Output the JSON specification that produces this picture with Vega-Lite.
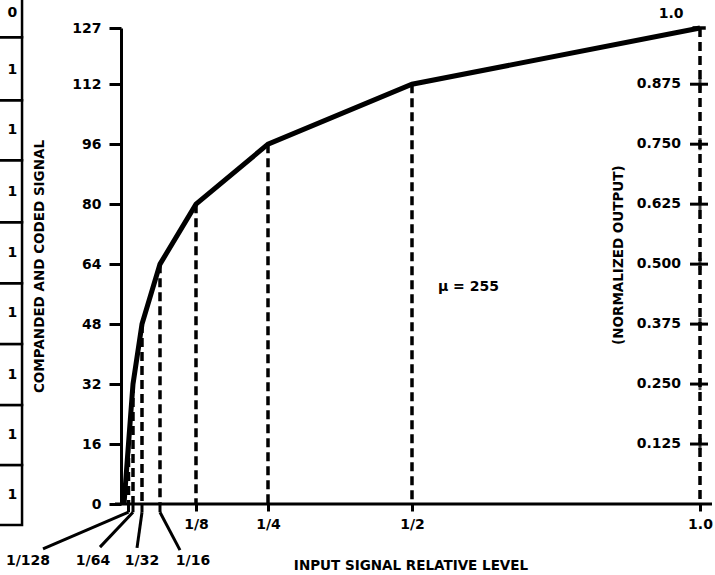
{
  "$schema": "https://vega.github.io/schema/vega-lite/v6.json",
  "width": 579,
  "height": 476,
  "autosize": {"type": "none"},
  "padding": {"left": 121, "top": 28, "right": 15, "bottom": 71},
  "background": "white",
  "config": {
    "view": {"stroke": null},
    "font": "DejaVu Sans",
    "text": {"font": "DejaVu Sans", "fontWeight": "bold", "fontSize": 14, "color": "black"}
  },
  "datasets": {
    "curve": [
      {"x": 0, "y": 0},
      {"x": 0.0078125, "y": 16},
      {"x": 0.015625, "y": 32},
      {"x": 0.03125, "y": 48},
      {"x": 0.0625, "y": 64},
      {"x": 0.125, "y": 80},
      {"x": 0.25, "y": 96},
      {"x": 0.5, "y": 112},
      {"x": 1, "y": 127}
    ],
    "boxes": [
      {"bit": "1", "lo": -5.6, "hi": 10.4, "mid": 2.4},
      {"bit": "1", "lo": 10.4, "hi": 26.4, "mid": 18.4},
      {"bit": "1", "lo": 26.4, "hi": 42.7, "mid": 34.4},
      {"bit": "1", "lo": 42.7, "hi": 58.9, "mid": 50.9},
      {"bit": "1", "lo": 58.9, "hi": 75.2, "mid": 66.9},
      {"bit": "1", "lo": 75.2, "hi": 91.7, "mid": 83.2},
      {"bit": "1", "lo": 91.7, "hi": 107.7, "mid": 99.7},
      {"bit": "1", "lo": 107.7, "hi": 124.5, "mid": 115.7},
      {"bit": "0", "lo": 124.5, "hi": 150, "mid": 130.9}
    ],
    "leaders": [
      {"label": "1/128", "x": 0.0078125, "xe": -0.1406, "ye": -12.0, "xl": -0.1667, "yl": -15.3},
      {"label": "1/64", "x": 0.015625, "xe": -0.0417, "ye": -11.5, "xl": -0.0538, "yl": -15.3},
      {"label": "1/32", "x": 0.03125, "xe": 0.0226, "ye": -11.7, "xl": 0.0313, "yl": -15.3},
      {"label": "1/16", "x": 0.0625, "xe": 0.0972, "ye": -12.3, "xl": 0.1198, "yl": -15.3}
    ],
    "norm": [
      {"v": 16, "label": "0.125"},
      {"v": 32, "label": "0.250"},
      {"v": 48, "label": "0.375"},
      {"v": 64, "label": "0.500"},
      {"v": 80, "label": "0.625"},
      {"v": 96, "label": "0.750"},
      {"v": 112, "label": "0.875"}
    ]
  },
  "layer": [
    {
      "data": {"name": "curve"},
      "mark": {"type": "line", "color": "black", "strokeWidth": 5},
      "encoding": {
        "x": {
          "field": "x",
          "type": "quantitative",
          "scale": {"domain": [-0.0052, 1], "nice": false, "zero": false},
          "axis": {
            "values": [0.125, 0.25, 0.5, 1],
            "labelExpr": "datum.value == 0.125 ? '1/8' : datum.value == 0.25 ? '1/4' : datum.value == 0.5 ? '1/2' : '1.0'",
            "domain": false,
            "grid": false,
            "ticks": true,
            "tickSize": 7,
            "tickWidth": 3,
            "tickColor": "black",
            "labelFlush": false,
            "labelFont": "DejaVu Sans",
            "labelFontSize": 14,
            "labelFontWeight": "bold",
            "labelColor": "black",
            "labelPadding": 6,
            "title": "INPUT SIGNAL RELATIVE LEVEL",
            "titleFont": "DejaVu Sans",
            "titleFontSize": 13.5,
            "titleFontWeight": "bold",
            "titleColor": "black",
            "titlePadding": 27
          }
        },
        "y": {
          "field": "y",
          "type": "quantitative",
          "scale": {"domain": [0, 127], "nice": false, "zero": false},
          "axis": {
            "values": [0, 16, 32, 48, 64, 80, 96, 112, 127],
            "grid": false,
            "domain": true,
            "domainWidth": 3,
            "domainColor": "black",
            "tickSize": 12,
            "tickWidth": 3,
            "tickColor": "black",
            "labelFlush": false,
            "labelFont": "DejaVu Sans",
            "labelFontSize": 14,
            "labelFontWeight": "bold",
            "labelColor": "black",
            "labelPadding": 8,
            "title": "COMPANDED AND CODED SIGNAL",
            "titleFont": "DejaVu Sans",
            "titleFontSize": 13.5,
            "titleFontWeight": "bold",
            "titleColor": "black",
            "titlePadding": 25
          }
        }
      }
    },
    {
      "data": {"name": "boxes"},
      "mark": {"type": "rect", "fill": "white", "stroke": "black", "strokeWidth": 2.5},
      "encoding": {
        "x": {"datum": -0.3, "type": "quantitative"},
        "x2": {"datum": -0.177},
        "y": {"field": "lo", "type": "quantitative"},
        "y2": {"field": "hi"}
      }
    },
    {
      "data": {"name": "boxes"},
      "mark": {"type": "text", "align": "center", "baseline": "middle"},
      "encoding": {
        "x": {"datum": -0.194, "type": "quantitative"},
        "y": {"field": "mid", "type": "quantitative"},
        "text": {"field": "bit", "type": "nominal"}
      }
    },
    {
      "data": {"values": [{"k": 1}]},
      "mark": {"type": "rule", "color": "black", "strokeWidth": 3},
      "encoding": {
        "x": {"datum": -0.0156, "type": "quantitative"},
        "x2": {"datum": 1.0208},
        "y": {"datum": 0, "type": "quantitative"}
      }
    },
    {
      "data": {"name": "curve"},
      "transform": [{"filter": "datum.x > 0"}],
      "mark": {"type": "rule", "color": "black", "strokeWidth": 3.5, "strokeDash": [9, 5]},
      "encoding": {
        "x": {"field": "x", "type": "quantitative"},
        "y": {"field": "y", "type": "quantitative"},
        "y2": {"datum": 0}
      }
    },
    {
      "data": {"name": "leaders"},
      "mark": {"type": "rule", "color": "black", "strokeWidth": 3},
      "encoding": {
        "x": {"field": "x", "type": "quantitative"},
        "x2": {"field": "x"},
        "y": {"datum": 0, "type": "quantitative"},
        "y2": {"datum": -2.2}
      }
    },
    {
      "data": {"name": "leaders"},
      "mark": {"type": "rule", "color": "black", "strokeWidth": 3},
      "encoding": {
        "x": {"field": "xe", "type": "quantitative"},
        "x2": {"field": "x"},
        "y": {"field": "ye", "type": "quantitative"},
        "y2": {"datum": -2.2}
      }
    },
    {
      "data": {"name": "leaders"},
      "mark": {"type": "text", "align": "center", "baseline": "middle"},
      "encoding": {
        "x": {"field": "xl", "type": "quantitative"},
        "y": {"field": "yl", "type": "quantitative"},
        "text": {"field": "label", "type": "nominal"}
      }
    },
    {
      "data": {"name": "norm"},
      "mark": {"type": "rule", "color": "black", "strokeWidth": 3},
      "encoding": {
        "x": {"datum": 0.9826, "type": "quantitative"},
        "x2": {"datum": 1.0139},
        "y": {"field": "v", "type": "quantitative"}
      }
    },
    {
      "data": {"name": "norm"},
      "mark": {"type": "tick", "orient": "vertical", "color": "black", "size": 12, "thickness": 3},
      "encoding": {
        "x": {"datum": 1, "type": "quantitative"},
        "y": {"field": "v", "type": "quantitative"}
      }
    },
    {
      "data": {"name": "norm"},
      "mark": {"type": "text", "align": "right", "baseline": "middle", "dx": -19},
      "encoding": {
        "x": {"datum": 1, "type": "quantitative"},
        "y": {"field": "v", "type": "quantitative"},
        "text": {"field": "label", "type": "nominal"}
      }
    },
    {
      "data": {"values": [{"t": "1.0"}]},
      "mark": {"type": "rule", "color": "black", "strokeWidth": 3.5},
      "encoding": {
        "x": {"datum": 0.987, "type": "quantitative"},
        "x2": {"datum": 1.01},
        "y": {"datum": 127, "type": "quantitative"}
      }
    },
    {
      "data": {"values": [{"t": "1.0"}]},
      "mark": {"type": "text", "align": "center", "baseline": "middle"},
      "encoding": {
        "x": {"datum": 0.95, "type": "quantitative"},
        "y": {"datum": 130.8, "type": "quantitative"},
        "text": {"field": "t", "type": "nominal"}
      }
    },
    {
      "data": {"values": [{"t": "(NORMALIZED OUTPUT)"}]},
      "mark": {"type": "text", "align": "center", "baseline": "middle", "angle": 270, "fontSize": 13.5},
      "encoding": {
        "x": {"datum": 0.8594, "type": "quantitative"},
        "y": {"datum": 66.4, "type": "quantitative"},
        "text": {"field": "t", "type": "nominal"}
      }
    },
    {
      "data": {"values": [{"t": "μ  =  255"}]},
      "mark": {"type": "text", "align": "left", "baseline": "middle", "fontSize": 14},
      "encoding": {
        "x": {"datum": 0.545, "type": "quantitative"},
        "y": {"datum": 58, "type": "quantitative"},
        "text": {"field": "t", "type": "nominal"}
      }
    }
  ]
}
